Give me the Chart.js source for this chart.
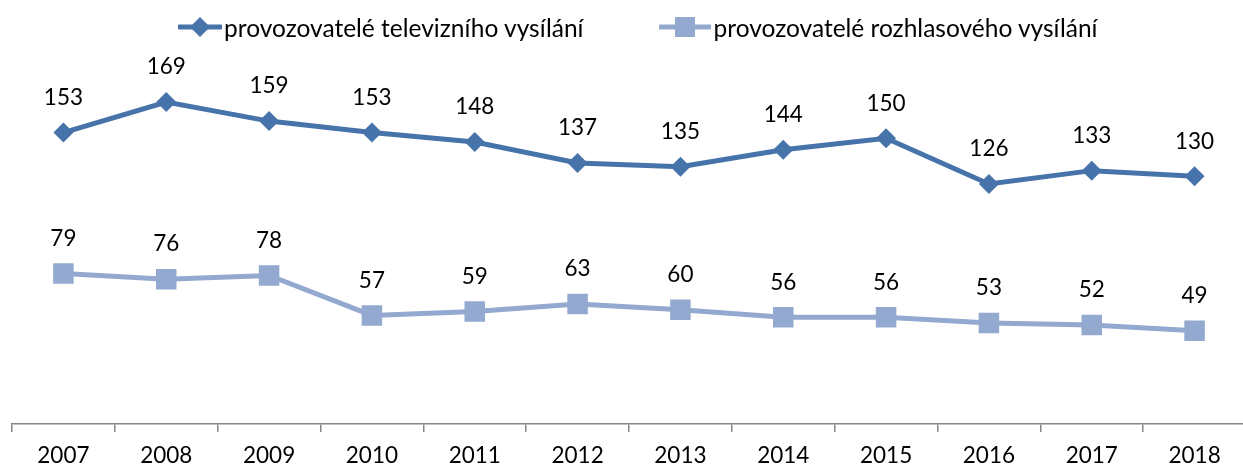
<!DOCTYPE html>
<html lang="cs">
<head>
<meta charset="utf-8">
<title>Provozovatelé vysílání 2007–2018</title>
<script src="https://cdn.jsdelivr.net/npm/chart.js@4.4.1/dist/chart.umd.min.js"></script>
<style>
  html, body { margin: 0; padding: 0; background: #fff; }
  body { width: 1243px; height: 467px; position: relative; overflow: hidden; font-family: Lato, 'Open Sans', sans-serif; }
  #lineChart { position: absolute; left: 0; top: 0; display: block; }
  .legend { position: absolute; top: 10px; left: 178px; display: flex; align-items: center; font-size: 24.5px; color: #000; white-space: nowrap; }
  .legend-item { display: flex; align-items: center; }
  .legend-item svg { display: block; }
  .legend-item span { margin-left: 2px; }
  .legend-item + .legend-item { margin-left: 76px; }
</style>
</head>
<body>
<!-- axis runs slightly past the right edge, so the canvas is a bit wider than the page -->
<canvas id="lineChart" width="1246" height="467"></canvas>

<div class="legend">
  <div class="legend-item">
    <svg width="44" height="34" viewBox="0 0 44 34">
      <line x1="1" y1="17" x2="43" y2="17" stroke="#4673AA" stroke-width="5" stroke-linecap="round"/>
      <polygon points="22,7 32,17 22,27 12,17" fill="#4673AA"/>
    </svg>
    <span>provozovatelé televizního vysílání</span>
  </div>
  <div class="legend-item">
    <svg width="52" height="34" viewBox="0 0 52 34">
      <line x1="1" y1="17" x2="51" y2="17" stroke="#93A9CF" stroke-width="5" stroke-linecap="round"/>
      <rect x="16" y="7" width="20" height="20" fill="#93A9CF"/>
    </svg>
    <span>provozovatelé rozhlasového vysílání</span>
  </div>
</div>

<script>
const years = ['2007', '2008', '2009', '2010', '2011', '2012', '2013', '2014', '2015', '2016', '2017', '2018'];
const tvOperators = [153, 169, 159, 153, 148, 137, 135, 144, 150, 126, 133, 130];
const radioOperators = [79, 76, 78, 57, 59, 63, 60, 56, 56, 53, 52, 49];

const darkBlue = '#4673AA';
const lightBlue = '#93A9CF';
const fontFamily = 'Lato, "Open Sans", sans-serif';

// value labels above each point
const valueLabels = {
  id: 'valueLabels',
  afterDatasetsDraw(chart) {
    const ctx = chart.ctx;
    ctx.save();
    ctx.font = '22.5px ' + fontFamily;
    ctx.fillStyle = '#000';
    ctx.textAlign = 'center';
    ctx.textBaseline = 'middle';
    chart.data.datasets.forEach((ds, i) => {
      chart.getDatasetMeta(i).data.forEach((pt, j) => {
        ctx.fillText(String(ds.data[j]), pt.x, pt.y - 35);
      });
    });
    ctx.restore();
  }
};

new Chart(document.getElementById('lineChart'), {
  type: 'line',
  data: {
    labels: years,
    datasets: [
      {
        label: 'provozovatelé televizního vysílání',
        data: tvOperators,
        borderColor: darkBlue, backgroundColor: darkBlue,
        pointBackgroundColor: darkBlue, pointBorderColor: darkBlue,
        pointStyle: 'rectRot', pointRadius: 10, pointBorderWidth: 0, pointHoverRadius: 10,
        borderWidth: 5, tension: 0, fill: false
      },
      {
        label: 'provozovatelé rozhlasového vysílání',
        data: radioOperators,
        borderColor: lightBlue, backgroundColor: lightBlue,
        pointBackgroundColor: lightBlue, pointBorderColor: lightBlue,
        pointStyle: 'rect', pointRadius: 14.5, pointBorderWidth: 0, pointHoverRadius: 14.5,
        borderWidth: 5, tension: 0, fill: false
      }
    ]
  },
  options: {
    responsive: false, animation: false,
    layout: { autoPadding: false, padding: { left: 12, right: 0, top: 43, bottom: -12 } },
    plugins: { legend: { display: false }, tooltip: { enabled: false } },
    scales: {
      x: {
        offset: true,
        grid: { offset: true, drawOnChartArea: false, drawTicks: true, tickLength: 8, color: '#868686', lineWidth: 1.5 },
        border: { display: true, color: '#868686', width: 1.5 },
        ticks: { font: { family: fontFamily, size: 22.5 }, color: '#000', padding: 10, maxRotation: 0, autoSkip: false }
      },
      y: { display: false, min: 0, max: 200 }
    }
  },
  plugins: [valueLabels]
});
</script>
</body>
</html>
